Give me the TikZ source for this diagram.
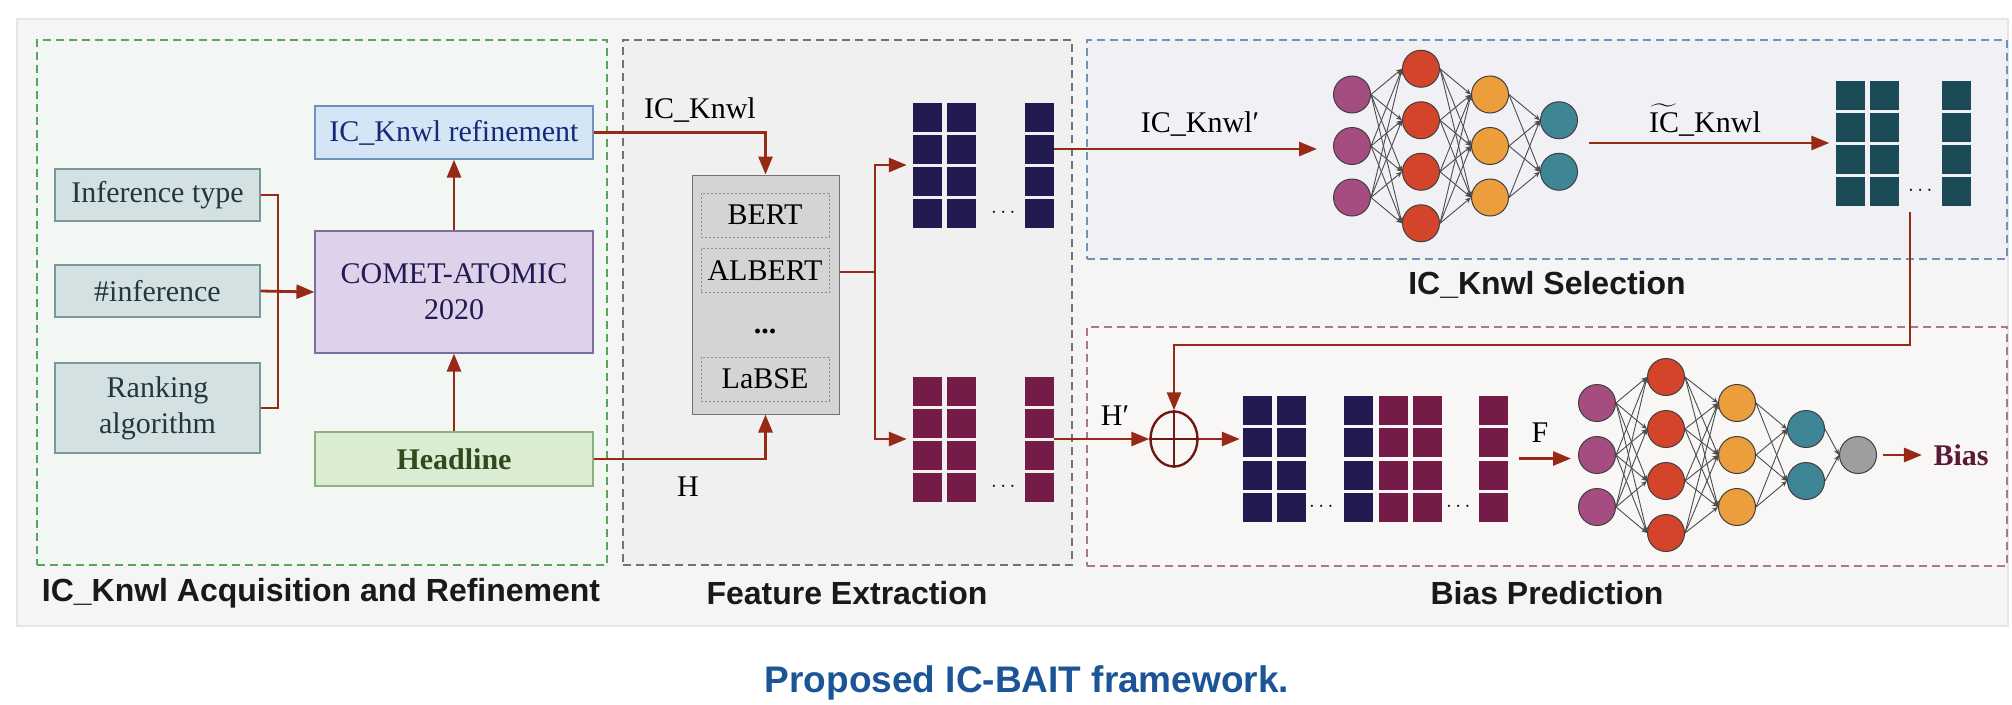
\documentclass[tikz,border=0pt]{standalone}
\usepackage{amsmath}
\usepackage{fontspec}
\setmainfont{Liberation Serif}
\setsansfont{Liberation Sans}
\usepackage{tikz}
\usetikzlibrary{arrows.meta,shapes.geometric}

\definecolor{linkred}{HTML}{962A16}
\definecolor{sumred}{HTML}{6E1A12}
\definecolor{navycell}{HTML}{221A50}
\definecolor{plumcell}{HTML}{751B47}
\definecolor{tealcell}{HTML}{1B4B56}
\definecolor{nnpurple}{HTML}{A54C80}
\definecolor{nnred}{HTML}{D4442B}
\definecolor{nnorange}{HTML}{EC9D3C}
\definecolor{nnteal}{HTML}{3E8696}
\definecolor{nngray}{HTML}{9E9E9E}
\definecolor{inputfill}{HTML}{D3E1E3}
\definecolor{inputline}{HTML}{7A979B}
\definecolor{inputtext}{HTML}{1F393E}
\definecolor{refinefill}{HTML}{D4E6F6}
\definecolor{refineline}{HTML}{6E92BB}
\definecolor{cometfill}{HTML}{DDD2EA}
\definecolor{cometline}{HTML}{7E6E9E}
\definecolor{headfill}{HTML}{DAEDD3}
\definecolor{headline}{HTML}{8DB27E}
\definecolor{headtext}{HTML}{2F4A1C}
\definecolor{biastext}{HTML}{5A1A35}
\definecolor{captionblue}{HTML}{1C5597}

\begin{document}
\begin{tikzpicture}[x=1pt,y=-1pt,
		every node/.style={font=\fontsize{30}{36}\selectfont},
		group_style/.style={dash pattern=on 8pt off 5pt,line width=1.8pt,inner sep=0pt},
		title_style/.style={font=\fontsize{32}{36}\selectfont\sffamily\bfseries,text=black!90},
		input_style/.style={draw=inputline,fill=inputfill,text=inputtext,line width=1.2pt,minimum width=205pt,minimum height=52pt,inner sep=0pt,align=center},
		step_style/.style={line width=1.2pt,minimum width=278pt,inner sep=0pt,align=center},
		model_style/.style={draw=black!45,dash pattern=on 2pt off 2pt,line width=0.8pt,minimum width=128pt,minimum height=44pt,inner sep=0pt},
		cell_style/.style={minimum width=29pt,minimum height=29pt,inner sep=0pt},
		neuron_style/.style={circle,draw=black!75,line width=1pt,minimum size=37pt,inner sep=0pt},
		nn_edge/.style={draw=black!70,line width=0.9pt,-{Stealth[length=6pt,width=5pt]}},
		edge_style/.style={draw=linkred,line width=2.8pt},
		arrow_style/.style={edge_style,-{Triangle[length=18pt,width=14pt]}}]

	\useasboundingbox (0,0) rectangle (2012,704);
	\fill[white] (0,0) rectangle (2012,704);
	\draw[fill=black!4,draw=black!10,line width=2pt] (17,19) rectangle (2008,626);

	% the four stages
	\node[group_style,draw=green!30!gray,fill=green!20!gray!8,minimum width=570pt,minimum height=525pt] (acqgroup) at (322,302.5) {};
	\node[group_style,draw=black!55,fill=black!6,minimum width=449pt,minimum height=525pt] (featgroup) at (847.5,302.5) {};
	\node[group_style,draw=refineline,fill=blue!20!gray!10,minimum width=920pt,minimum height=219pt] (selgroup) at (1547,149.5) {};
	\node[group_style,draw=plumcell!60,fill=red!20!gray!6,minimum width=920pt,minimum height=239pt] (biasgroup) at (1547,446.5) {};

	\node[title_style] (acqtitle) at (321,593) {IC\_Knwl Acquisition and Refinement};
	\node[title_style] (feattitle) at (847,593) {Feature Extraction};
	\node[title_style] (seltitle) at (1547,285) {IC\_Knwl Selection};
	\node[title_style] (biastitle) at (1547,593) {Bias Prediction};
	\node[font=\fontsize{37}{40}\selectfont\sffamily\bfseries,text=captionblue] (caption) at (1027,683) {Proposed IC-BAIT framework.};

	% knowledge acquisition
	\node[input_style] (inftype) at (157.5,195) {Inference type};
	\node[input_style] (numinf) at (157.5,291) {\#inference};
	\node[input_style,minimum height=90pt] (ranking) at (157.5,408) {Ranking\\algorithm};
	\node[step_style,draw=refineline,fill=refinefill,text=inputtext!70!blue,minimum height=53pt] (refine) at (454,132.5) {IC\_Knwl refinement};
	\node[step_style,draw=cometline,fill=cometfill,text=navycell,minimum height=122pt] (comet) at (454,292) {COMET-ATOMIC\\2020};
	\node[step_style,draw=headline,fill=headfill,text=headtext,minimum height=54pt] (headl) at (454,459) {\bfseries Headline};
	\coordinate (merge) at (278,291);

	\draw[edge_style] (inftype.east) -| (merge);
	\draw[edge_style] (ranking.east) -| (merge);
	\draw[arrow_style] (numinf.east) -- (comet.west);
	\draw[arrow_style] (comet.north) -- (refine.south);
	\draw[arrow_style] (headl.north) -- (comet.south);

	% encoders
	\node[draw=black!55,fill=black!17,line width=1pt,minimum width=147pt,minimum height=239pt,inner sep=0pt] (encoder) at (765.5,294.5) {};
	\node[model_style] (bert) at (765,215) {BERT};
	\node[model_style] (albert) at (765,270.5) {ALBERT};
	\node (mdots) at (765,331) {\bfseries ...};
	\node[model_style] (labse) at (765,379) {LaBSE};

	\draw[arrow_style] (refine.east) -| (encoder.north);
	\draw[arrow_style] (headl.east) -| (encoder.south);
	\node[anchor=base] (knwllab) at (700,118) {IC\_Knwl};
	\node[anchor=base] (hlab) at (688,496) {H};

	% embeddings
	\node[inner sep=0pt,minimum width=142pt,minimum height=125pt] (topmat) at (983,165) {};
	\node[inner sep=0pt,minimum width=142pt,minimum height=125pt] (botmat) at (983,439) {};
	\foreach \c/\x in {1/927,2/961,3/1039}
		\foreach \r in {1,...,4} {
			\node[cell_style,fill=navycell] (top-\c-\r) at (\x,{117+32*(\r-1)}) {};
			\node[cell_style,fill=plumcell] (bot-\c-\r) at (\x,{391+32*(\r-1)}) {};
		}
	\node[font=\fontsize{22}{22}\selectfont] (topdots) at (1005,213) {$\cdots$};
	\node[font=\fontsize{22}{22}\selectfont] (botdots) at (1005,487) {$\cdots$};

	\coordinate (split) at (875,272);
	\draw[edge_style] (encoder.east |- split) -- (split);
	\draw[arrow_style,shorten >=5pt] (split) |- (topmat.west);
	\draw[arrow_style,shorten >=5pt] (split) |- (botmat.west);

	% knowledge selection network
	\foreach \i in {1,2,3} {
		\node[neuron_style,fill=nnpurple] (pa\i) at (1352,{146+51.5*(\i-2)}) {};
		\node[neuron_style,fill=nnorange] (pc\i) at (1490,{146+51.5*(\i-2)}) {};
	}
	\foreach \i in {1,...,4}
		\node[neuron_style,fill=nnred] (pb\i) at (1421,{146+51.5*(\i-2.5)}) {};
	\foreach \i in {1,2}
		\node[neuron_style,fill=nnteal] (pd\i) at (1559,{146+51.5*(\i-1.5)}) {};
	\foreach \i in {1,2,3}
		\foreach \j in {1,...,4} {
			\draw[nn_edge] (pa\i.east) -- (pb\j.west);
			\draw[nn_edge] (pb\j.east) -- (pc\i.west);
		}
	\foreach \i in {1,2,3}
		\foreach \j in {1,2}
			\draw[nn_edge] (pc\i.east) -- (pd\j.west);

	\draw[arrow_style,shorten >=16pt] (top-3-2.east) -- (top-3-2.east -| pa2.west);
	\node[anchor=base] (knwlprime) at (1200,132) {IC\_Knwl′};

	\node[inner sep=0pt,minimum width=136pt,minimum height=126pt] (selmat) at (1903.5,143) {};
	\foreach \c/\x in {1/1850.5,2/1884,3/1956}
		\foreach \r in {1,...,4}
			\node[cell_style,fill=tealcell] (sel-\c-\r) at (\x,{95+32*(\r-1)}) {};
	\node[font=\fontsize{22}{22}\selectfont] (seldots) at (1922,191) {$\cdots$};

	\coordinate (selin) at (1589,143);
	\draw[arrow_style,shorten >=6pt] (selin) -- (selmat.west);
	\node[anchor=base] (knwltilde) at (1705,132) {$\widetilde{\text{IC}}$\_Knwl};

	% bias prediction
	\node[ellipse,draw=sumred,line width=2.4pt,minimum width=47pt,minimum height=55pt,inner sep=0pt] (oplus) at (1174,439) {};
	\draw[sumred,line width=2.4pt] (oplus.north) -- (oplus.south);
	\draw[sumred,line width=2.4pt] (oplus.west) -- (oplus.east);

	\coordinate (selout) at (1910,212);
	\draw[arrow_style] (selout) -- ++(0,133) -| (oplus.north);
	\draw[arrow_style] (botmat.east) -- (oplus.west);
	\node[anchor=base] (hprime) at (1115,425) {H′};

	\node[inner sep=0pt,minimum width=265pt,minimum height=127pt] (catmat) at (1375.5,458.5) {};
	\foreach \c/\x/\col in {1/1257.5/navycell,2/1291/navycell,3/1358/navycell,4/1393.5/plumcell,5/1427.5/plumcell,6/1493.5/plumcell}
		\foreach \r in {1,...,4}
			\node[cell_style,fill=\col] (cat-\c-\r) at (\x,{410+32.5*(\r-1)}) {};
	\node[font=\fontsize{22}{22}\selectfont] (catdots1) at (1323,507) {$\cdots$};
	\node[font=\fontsize{22}{22}\selectfont] (catdots2) at (1460,507) {$\cdots$};

	\draw[arrow_style,shorten >=3pt] (oplus.east) -- (oplus.east -| cat-1-2.west);

	\foreach \i in {1,2,3} {
		\node[neuron_style,fill=nnpurple] (qa\i) at (1597,{455+52*(\i-2)}) {};
		\node[neuron_style,fill=nnorange] (qc\i) at (1737,{455+52*(\i-2)}) {};
	}
	\foreach \i in {1,...,4}
		\node[neuron_style,fill=nnred] (qb\i) at (1666,{455+52*(\i-2.5)}) {};
	\foreach \i in {1,2}
		\node[neuron_style,fill=nnteal] (qd\i) at (1806,{455+52*(\i-1.5)}) {};
	\node[neuron_style,fill=nngray] (qe) at (1858,455) {};
	\foreach \i in {1,2,3}
		\foreach \j in {1,...,4} {
			\draw[nn_edge] (qa\i.east) -- (qb\j.west);
			\draw[nn_edge] (qb\j.east) -- (qc\i.west);
		}
	\foreach \i in {1,2,3}
		\foreach \j in {1,2}
			\draw[nn_edge] (qc\i.east) -- (qd\j.west);
	\foreach \j in {1,2}
		\draw[nn_edge] (qd\j.east) -- (qe.west);

	\draw[arrow_style,shorten <=11pt,shorten >=7pt] (catmat.east) -- (catmat.east -| qa2.west);
	\node[anchor=base] (flab) at (1540,442) {F};

	\node[text=biastext] (bias) at (1961,455) {\bfseries Bias};
	\draw[arrow_style,shorten <=6pt,shorten >=8pt] (qe.east) -- (bias.west);

\end{tikzpicture}
\end{document}
